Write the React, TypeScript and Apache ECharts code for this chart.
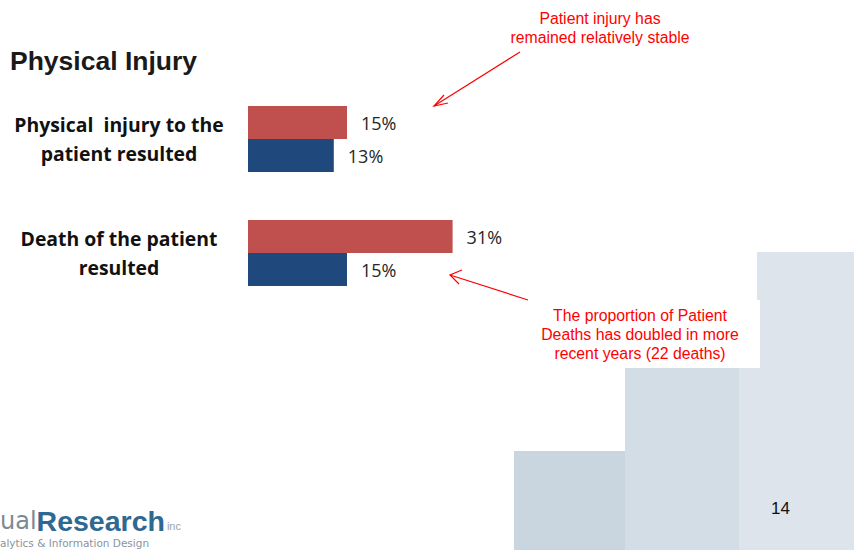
import React, { useEffect, useRef } from "react";
import * as echarts from "echarts";

const categories = ["Physical  injury to the\npatient resulted", "Death of the patient\nresulted"];
const recentValues = [15, 31];
const earlierValues = [13, 15];
const annotationTop = ["Patient injury has", "remained relatively stable"];
const annotationBottom = ["The proportion of Patient", "Deaths has doubled in more", "recent years (22 deaths)"];

export default function App() {
  const ref = useRef<HTMLDivElement>(null);
  useEffect(() => {
    if (!ref.current) return;
    const chart = echarts.init(ref.current, null, { renderer: "svg" });
    const labelStyle = {
      show: true,
      position: "right" as const,
      distance: 14,
      formatter: "{c}%",
      fontFamily: "Open Sans, sans-serif",
      fontSize: 18,
      color: "#262626",
    };
    chart.setOption({
      animation: false,
      backgroundColor: "#ffffff",
      title: {
        text: "Physical Injury",
        left: 5,
        top: 42,
        textStyle: { fontFamily: "Liberation Sans, Arial, sans-serif", fontWeight: "bold", fontSize: 26.5, color: "#1a1a1a" },
      },
      grid: { left: 248, top: 82, width: 330, height: 228, containLabel: false },
      xAxis: { type: "value", min: 0, max: 50, show: false },
      yAxis: {
        type: "category",
        data: categories,
        inverse: true,
        axisLine: { show: false },
        axisTick: { show: false },
        axisLabel: {
          margin: 26,
          align: "right",
          formatter: (v: string) => v.split("\n").map((s) => "{l|" + s + "}").join("\n"),
          rich: {
            l: {
              width: 206,
              align: "center",
              fontFamily: "Open Sans, sans-serif",
              fontWeight: "bold",
              fontSize: 19.4,
              lineHeight: 29,
              color: "#111111",
            },
          },
        },
      },
      series: [
        {
          type: "bar",
          name: "Recent",
          data: recentValues,
          barWidth: 33,
          barGap: "0%",
          itemStyle: { color: "#c0504d" },
          label: labelStyle,
        },
        {
          type: "bar",
          name: "Earlier",
          data: earlierValues,
          barWidth: 33,
          barGap: "0%",
          itemStyle: { color: "#1f497d" },
          label: labelStyle,
        },
      ],
      graphic: [
        { type: "rect", z: -10, shape: { x: 514, y: 451, width: 112, height: 99 }, style: { fill: "#c9d6df" } },
        { type: "rect", z: -10, shape: { x: 625, y: 368, width: 115, height: 182 }, style: { fill: "#d3dde6" } },
        { type: "rect", z: -10, shape: { x: 739, y: 252, width: 115, height: 298 }, style: { fill: "#dde4ec" } },
        { type: "rect", z: -9, shape: { x: 530, y: 250, width: 227, height: 50 }, style: { fill: "#ffffff" } },
        { type: "rect", z: -9, shape: { x: 530, y: 300, width: 230, height: 68 }, style: { fill: "#ffffff" } },
        {
          type: "text",
          x: 600,
          y: 9,
          style: {
            text: annotationTop.join("\n"),
            align: "center",
            fill: "#ff0000",
            fontFamily: "Liberation Sans, Arial, sans-serif",
            fontSize: 15.8,
            lineHeight: 19,
          },
        },
        { type: "line", shape: { x1: 520, y1: 52, x2: 434, y2: 106 }, style: { stroke: "#ff0000", lineWidth: 1.2 } },
        { type: "polyline", shape: { points: [[444, 95], [434, 106], [448, 103]] }, style: { stroke: "#ff0000", lineWidth: 1.2, fill: "none" } },
        {
          type: "text",
          x: 640,
          y: 306,
          style: {
            text: annotationBottom.join("\n"),
            align: "center",
            fill: "#ff0000",
            fontFamily: "Liberation Sans, Arial, sans-serif",
            fontSize: 15.8,
            lineHeight: 19,
          },
        },
        { type: "line", shape: { x1: 528, y1: 300, x2: 450, y2: 275 }, style: { stroke: "#ff0000", lineWidth: 1.2 } },
        { type: "polyline", shape: { points: [[462, 270], [450, 275], [459, 284]] }, style: { stroke: "#ff0000", lineWidth: 1.2, fill: "none" } },
        {
          type: "text",
          x: 771,
          y: 500,
          style: { text: "14", fill: "#111111", fontFamily: "Liberation Sans, Arial, sans-serif", fontSize: 17 },
        },
        {
          type: "text",
          x: 0,
          y: 509,
          style: {
            text: "{a|ual}{b|Research}{c|inc}",
            rich: {
              a: { fontFamily: "DejaVu Sans, sans-serif", fontSize: 24, lineHeight: 24, fill: "#7d8992", fontWeight: "normal" },
              b: { fontFamily: "Liberation Sans, Arial, sans-serif", fontSize: 28.5, lineHeight: 24, fill: "#2f6890", fontWeight: "bold" },
              c: { fontFamily: "Liberation Sans, Arial, sans-serif", fontSize: 11, lineHeight: 24, fill: "#9aa4ab", padding: [10, 0, 0, 2] },
            },
          },
        },
        {
          type: "text",
          x: 0,
          y: 537,
          style: { text: "alytics & Information Design", fill: "#8a949c", fontFamily: "DejaVu Sans, sans-serif", fontSize: 10.5, lineHeight: 11 },
        },
      ],
    });
    return () => chart.dispose();
  }, []);
  return <div ref={ref} style={{ position: "fixed", left: 0, top: 0, width: 854, height: 550 }} />;
}
